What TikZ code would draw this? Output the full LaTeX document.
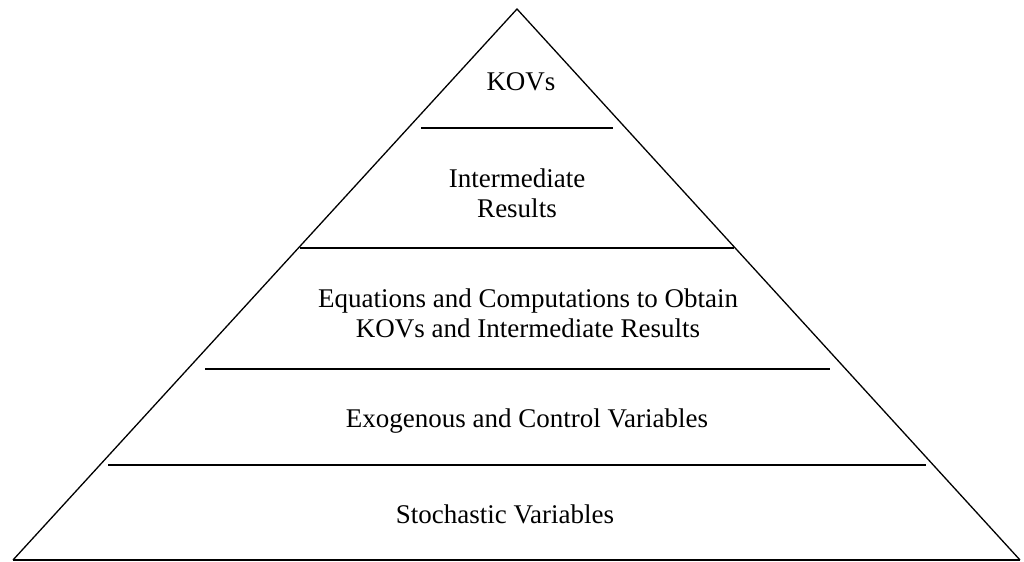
\documentclass[tikz,border=0pt]{standalone}
\usepackage{fontspec}
\setmainfont{Liberation Serif}
\usepackage{tikz}
\tikzstyle{layer} = [align=center, inner sep=0pt, font=\fontsize{13.5}{15}\selectfont]
\tikzstyle{divider} = [line width=1pt]
\tikzstyle{side} = [line width=0.65pt, line join=miter]

\begin{document}
\begin{tikzpicture}[x=0.5pt, y=-0.5pt]
  \useasboundingbox (0,0) rectangle (1024,562);
  % outline of the pyramid
  \coordinate (apex) at (517,9);
  \coordinate (baseL) at (13,560);
  \coordinate (baseR) at (1020,560);
  \draw[side] (baseL) -- (apex) -- (baseR);
  \draw[divider] (baseL) -- (baseR);
  % dividers between the layers
  \draw[divider] (421,128) -- (613,128);
  \draw[divider] (300,248) -- (734,248);
  \draw[divider] (205,369) -- (830,369);
  \draw[divider] (108,465) -- (926,465);
  % layer labels
  \node[layer] (kovs) at (521,82) {KOVs};
  \node[layer] (interm) at (517,193) {Intermediate\\Results};
  \node[layer] (equations) at (528,313) {Equations and Computations to Obtain\\KOVs and Intermediate Results};
  \node[layer] (exogenous) at (527,421) {Exogenous and Control Variables};
  \node[layer] (stochastic) at (505,514) {Stochastic Variables};
\end{tikzpicture}
\end{document}
